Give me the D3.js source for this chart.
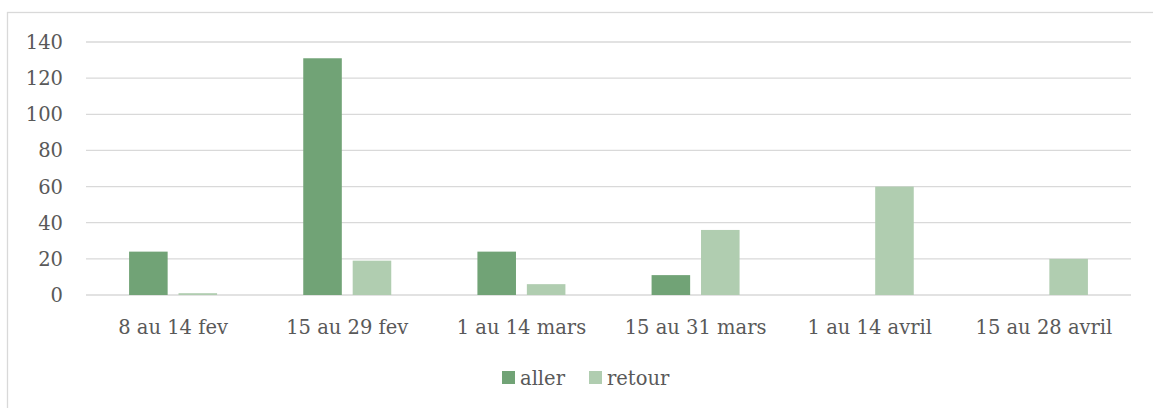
<!DOCTYPE html>
<html>
<head>
<meta charset="utf-8">
<script src="https://cdn.jsdelivr.net/npm/d3@7"></script>
<style>
  body { margin: 0; background: #fff; }
  text { font-family: "DejaVu Serif", serif; fill: #595959; }
</style>
</head>
<body>
<svg id="chart"></svg>
<script>
const categories = ["8 au 14 fev", "15 au 29 fev", "1 au 14 mars", "15 au 31 mars", "1 au 14 avril", "15 au 28 avril"];
const series = ["aller", "retour"];
const aller = [24, 131, 24, 11, 0, 0];
const retour = [1, 19, 6, 36, 60, 20];
const yTicks = [0, 20, 40, 60, 80, 100, 120, 140];
const colors = ["#71a376", "#b0cdb0"];

const width = 1153, height = 408;
const margin = {left: 86, right: 22, top: 42, bottom: 113};
const fontSize = 19.5;

let svg = d3.select("#chart")
    .attr("width", width)
    .attr("height", height);

// chart frame (only top and left edges are visible in the crop)
svg.append("rect")
    .attr("x", 7.5)
    .attr("y", 12.5)
    .attr("width", width + 20)
    .attr("height", height + 20)
    .attr("fill", "none")
    .attr("stroke", "#d9d9d9")
    .attr("stroke-width", 1.3);

let x0 = d3.scaleBand()
    .domain(categories)
    .range([margin.left, width - margin.right])
    .padding(0);

let groupWidth = 88;
let x1 = d3.scaleBand()
    .domain(series)
    .range([0, groupWidth])
    .paddingInner(0.22);

let y = d3.scaleLinear()
    .domain([0, 140])
    .range([height - margin.bottom, margin.top]);

// gridlines
svg.append("g")
  .selectAll("line")
  .data(yTicks)
  .join("line")
    .attr("x1", margin.left)
    .attr("x2", width - margin.right)
    .attr("y1", d => y(d))
    .attr("y2", d => y(d))
    .attr("stroke", "#d9d9d9")
    .attr("stroke-width", 1.3);

// y tick labels
svg.append("g")
  .selectAll("text")
  .data(yTicks)
  .join("text")
    .attr("x", 63)
    .attr("y", d => y(d))
    .attr("dy", "0.36em")
    .attr("text-anchor", "end")
    .attr("font-size", fontSize)
    .text(d => d);

// bars
let rows = categories.map((c, i) => ({cat: c, values: [aller[i], retour[i]]}));
let groups = svg.append("g")
  .selectAll("g")
  .data(rows)
  .join("g")
    .attr("transform", d => `translate(${x0(d.cat) + (x0.bandwidth() - groupWidth) / 2},0)`);

groups.selectAll("rect")
  .data(d => d.values.map((v, i) => ({key: series[i], value: v, i: i})))
  .join("rect")
    .attr("x", d => x1(d.key))
    .attr("width", x1.bandwidth())
    .attr("y", d => y(d.value))
    .attr("height", d => y(0) - y(d.value))
    .attr("fill", d => colors[d.i]);

// category labels
svg.append("g")
  .selectAll("text")
  .data(categories)
  .join("text")
    .attr("x", d => x0(d) + x0.bandwidth() / 2)
    .attr("y", 334)
    .attr("text-anchor", "middle")
    .attr("font-size", fontSize)
    .text(d => d);

// legend
let legendX = [502, 589];
let legend = svg.append("g")
  .selectAll("g")
  .data(series)
  .join("g")
    .attr("transform", (d, i) => `translate(${legendX[i]},371)`);

legend.append("rect")
    .attr("width", 13)
    .attr("height", 13)
    .attr("fill", (d, i) => colors[i]);

legend.append("text")
    .attr("x", 18)
    .attr("y", 13.5)
    .attr("font-size", fontSize)
    .text(d => d);
</script>
</body>
</html>
